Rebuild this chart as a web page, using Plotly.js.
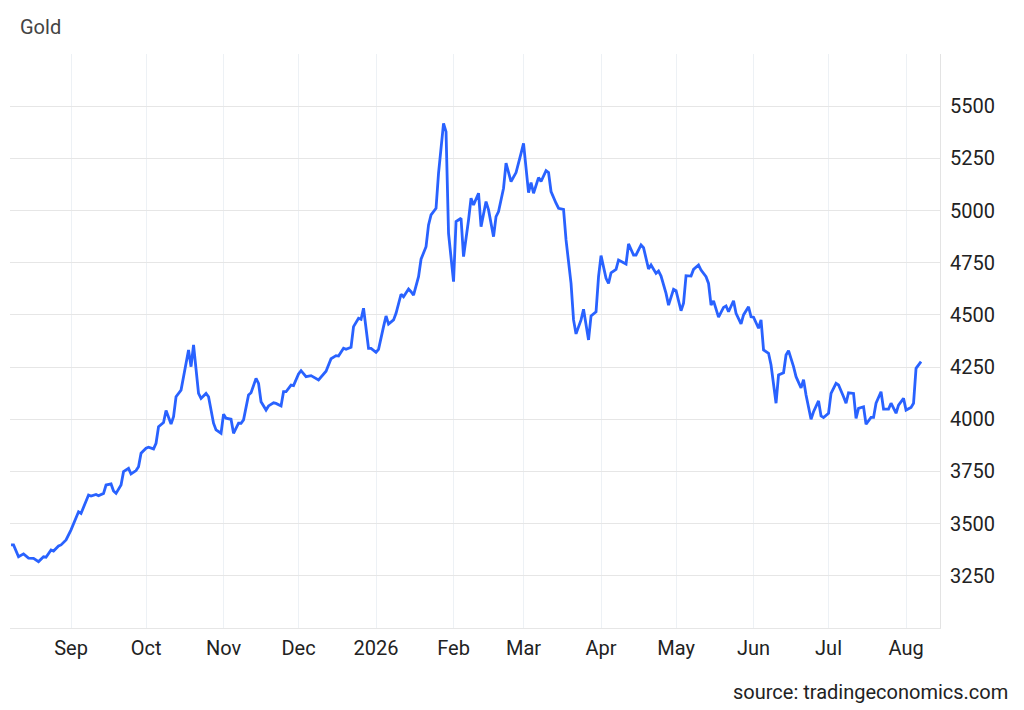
<!DOCTYPE html>
<html>
<head>
<meta charset="utf-8">
<title>Gold</title>
<script src="https://cdn.plot.ly/plotly-3.0.1.min.js"></script>
<style>
  html, body { margin: 0; padding: 0; background: #fff; }
  #chart { width: 1024px; height: 710px; }
</style>
</head>
<body>
<div id="chart"></div>
<script>
/* ── Chart data ── */
var dates = [
  '2025-08-08','2025-08-09','2025-08-11','2025-08-13','2025-08-15','2025-08-17','2025-08-19','2025-08-21','2025-08-22','2025-08-24','2025-08-25','2025-08-27','2025-08-28','2025-08-30',
  '2025-09-01','2025-09-03','2025-09-04','2025-09-05','2025-09-08','2025-09-09','2025-09-11','2025-09-12','2025-09-14','2025-09-15','2025-09-17','2025-09-18','2025-09-19','2025-09-21','2025-09-22','2025-09-24','2025-09-25','2025-09-27','2025-09-28','2025-09-29',
  '2025-10-01','2025-10-02','2025-10-04','2025-10-05','2025-10-06','2025-10-08','2025-10-09','2025-10-11','2025-10-12','2025-10-13','2025-10-15','2025-10-16','2025-10-18','2025-10-19','2025-10-20','2025-10-22','2025-10-23','2025-10-25','2025-10-26','2025-10-28','2025-10-29','2025-10-31',
  '2025-11-01','2025-11-02','2025-11-04','2025-11-05','2025-11-07','2025-11-08','2025-11-09','2025-11-11','2025-11-12','2025-11-14','2025-11-15','2025-11-16','2025-11-18','2025-11-19','2025-11-21','2025-11-22','2025-11-24','2025-11-25','2025-11-26','2025-11-28','2025-11-29',
  '2025-12-01','2025-12-02','2025-12-04','2025-12-06','2025-12-09','2025-12-12','2025-12-14','2025-12-16','2025-12-17','2025-12-19','2025-12-20','2025-12-22','2025-12-23','2025-12-25','2025-12-26','2025-12-27','2025-12-29','2025-12-30',
  '2026-01-01','2026-01-02','2026-01-04','2026-01-05','2026-01-06','2026-01-08','2026-01-09','2026-01-11','2026-01-12','2026-01-14','2026-01-15','2026-01-16','2026-01-18','2026-01-19','2026-01-21','2026-01-22','2026-01-23','2026-01-25','2026-01-26','2026-01-28','2026-01-29','2026-01-30',
  '2026-02-01','2026-02-02','2026-02-04','2026-02-05','2026-02-07','2026-02-08','2026-02-09','2026-02-11','2026-02-12','2026-02-14','2026-02-15','2026-02-17','2026-02-18','2026-02-19','2026-02-21','2026-02-22','2026-02-24','2026-02-25','2026-02-26','2026-02-28',
  '2026-03-01','2026-03-03','2026-03-04','2026-03-05','2026-03-07','2026-03-08','2026-03-10','2026-03-11','2026-03-12','2026-03-14','2026-03-15','2026-03-17','2026-03-18','2026-03-20','2026-03-21','2026-03-22','2026-03-24','2026-03-25','2026-03-27','2026-03-28','2026-03-30','2026-03-31',
  '2026-04-01','2026-04-03','2026-04-04','2026-04-05','2026-04-07','2026-04-08','2026-04-10','2026-04-11','2026-04-12','2026-04-14','2026-04-15','2026-04-17','2026-04-18','2026-04-20','2026-04-21','2026-04-23','2026-04-24','2026-04-25','2026-04-27','2026-04-28','2026-04-30',
  '2026-05-01','2026-05-03','2026-05-04','2026-05-05','2026-05-07','2026-05-08','2026-05-10','2026-05-11','2026-05-13','2026-05-14','2026-05-15','2026-05-16','2026-05-18','2026-05-20','2026-05-21','2026-05-22','2026-05-24','2026-05-25','2026-05-27','2026-05-28','2026-05-30','2026-05-31',
  '2026-06-01','2026-06-03','2026-06-04','2026-06-05','2026-06-07','2026-06-08','2026-06-10','2026-06-11','2026-06-13','2026-06-14','2026-06-15','2026-06-17','2026-06-18','2026-06-20','2026-06-21','2026-06-22','2026-06-24','2026-06-25','2026-06-27','2026-06-28','2026-06-29',
  '2026-07-01','2026-07-02','2026-07-04','2026-07-05','2026-07-07','2026-07-08','2026-07-09','2026-07-11','2026-07-12','2026-07-13','2026-07-15','2026-07-16','2026-07-18','2026-07-19','2026-07-20','2026-07-22','2026-07-23','2026-07-25','2026-07-26','2026-07-28','2026-07-29','2026-07-31',
  '2026-08-01','2026-08-03','2026-08-04','2026-08-05','2026-08-07'
];

var prices = [
  3398,3398,3341,3355,3335,3334,3318,3341,3339,3374,3369,3393,3398,3422,
  3470,3533,3557,3549,3637,3632,3640,3634,3645,3685,3690,3656,3645,3685,3749,3765,3738,3754,3773,3837,
  3861,3866,3858,3885,3964,3984,4042,3977,4012,4108,4140,4204,4332,4252,4356,4124,4100,4124,4108,3981,3949,3933,
  4024,4005,4000,3933,3981,3981,3997,4116,4127,4196,4172,4084,4044,4064,4079,4076,4064,4132,4132,4164,4161,
  4217,4233,4204,4209,4188,4230,4290,4305,4303,4340,4335,4345,4444,4484,4479,4532,4340,4340,
  4321,4335,4444,4495,4456,4476,4508,4599,4587,4624,4611,4595,4683,4767,4827,4931,4979,5011,5179,5418,5378,4891,
  4659,4947,4963,4779,4955,5059,5027,5083,4923,5043,5003,4875,4971,4995,5107,5227,5139,5163,5182,5274,
  5322,5086,5134,5083,5158,5139,5191,5182,5091,5035,5011,5006,4859,4651,4476,4409,4476,4527,4380,4495,4515,4683,
  4784,4675,4651,4702,4718,4763,4750,4744,4840,4787,4787,4835,4822,4720,4739,4699,4710,4686,4603,4547,4623,
  4616,4520,4556,4688,4686,4718,4739,4715,4683,4651,4547,4567,4489,4536,4543,4515,4568,4508,4457,4500,4539,4491,
  4489,4436,4476,4332,4316,4260,4077,4212,4223,4308,4329,4252,4204,4150,4190,4116,4000,4036,4088,4016,4008,
  4029,4124,4172,4164,4108,4077,4127,4124,4004,4052,4060,3976,4009,4009,4077,4132,4049,4049,4077,4029,4068,4100,
  4044,4057,4077,4244,4276
];

var monthTicks  = ['2025-09-01','2025-10-01','2025-11-01','2025-12-01','2026-01-01','2026-02-01',
                   '2026-03-01','2026-04-01','2026-05-01','2026-06-01','2026-07-01','2026-08-01'];
var monthLabels = ['Sep','Oct','Nov','Dec','2026','Feb','Mar','Apr','May','Jun','Jul','Aug'];

var priceTicks  = [3000,3250,3500,3750,4000,4250,4500,4750,5000,5250,5500,5750];
var priceLabels = ['','3250','3500','3750','4000','4250','4500','4750','5000','5250','5500',''];

(function () {
  'use strict';

  var FONT = 'Roboto, "Liberation Sans", Arial, sans-serif';
  var INK  = '#222222';

  var traces = [{
    x: dates,
    y: prices,
    type: 'scatter',
    mode: 'lines',
    line: { color: '#2962ff', width: 2.8 },
    hoverinfo: 'x+y',
    showlegend: false,
  }];

  var layout = {
    width: 1024,
    height: 710,
    margin: { l: 10, r: 84, t: 54, b: 82 },
    paper_bgcolor: '#ffffff',
    plot_bgcolor: '#ffffff',
    font: { family: FONT, size: 20, color: INK },
    title: {
      text: 'Gold',
      xref: 'container', yref: 'container',
      x: 20 / 1024, xanchor: 'left',
      y: 1 - 27 / 710, yanchor: 'middle',
      font: { family: FONT, size: 20, color: '#444444' },
    },
    xaxis: {
      type: 'date',
      range: ['2025-08-07 14:00', '2026-08-14 14:00'],
      tickvals: monthTicks,
      ticktext: monthLabels,
      ticks: '',
      ticklabelstandoff: 2,
      tickfont: { family: FONT, size: 20, color: INK },
      showgrid: true,
      gridcolor: '#edf1f5',
      gridwidth: 1,
      zeroline: false,
      showline: true,
      linecolor: '#e6e6e6',
      linewidth: 1,
      fixedrange: true,
    },
    yaxis: {
      side: 'right',
      range: [3000, 5750],
      tickvals: priceTicks,
      ticktext: priceLabels,
      ticks: '',
      ticklabelstandoff: 5,
      tickfont: { family: FONT, size: 20, color: INK },
      showgrid: true,
      gridcolor: '#e6e6e6',
      gridwidth: 1,
      zeroline: false,
      showline: true,
      linecolor: '#e3e3e3',
      linewidth: 1,
      fixedrange: true,
    },
    annotations: [{
      text: 'source: tradingeconomics.com',
      xref: 'paper', yref: 'paper',
      x: (1010 - 10) / 930, xanchor: 'right',
      y: (628 - 692) / 574, yanchor: 'middle',
      showarrow: false,
      font: { family: FONT, size: 20, color: INK },
    }],
    showlegend: false,
    hovermode: 'closest',
    dragmode: false,
  };

  Plotly.newPlot('chart', traces, layout, { displayModeBar: false, staticPlot: true });
})();
</script>
</body>
</html>
